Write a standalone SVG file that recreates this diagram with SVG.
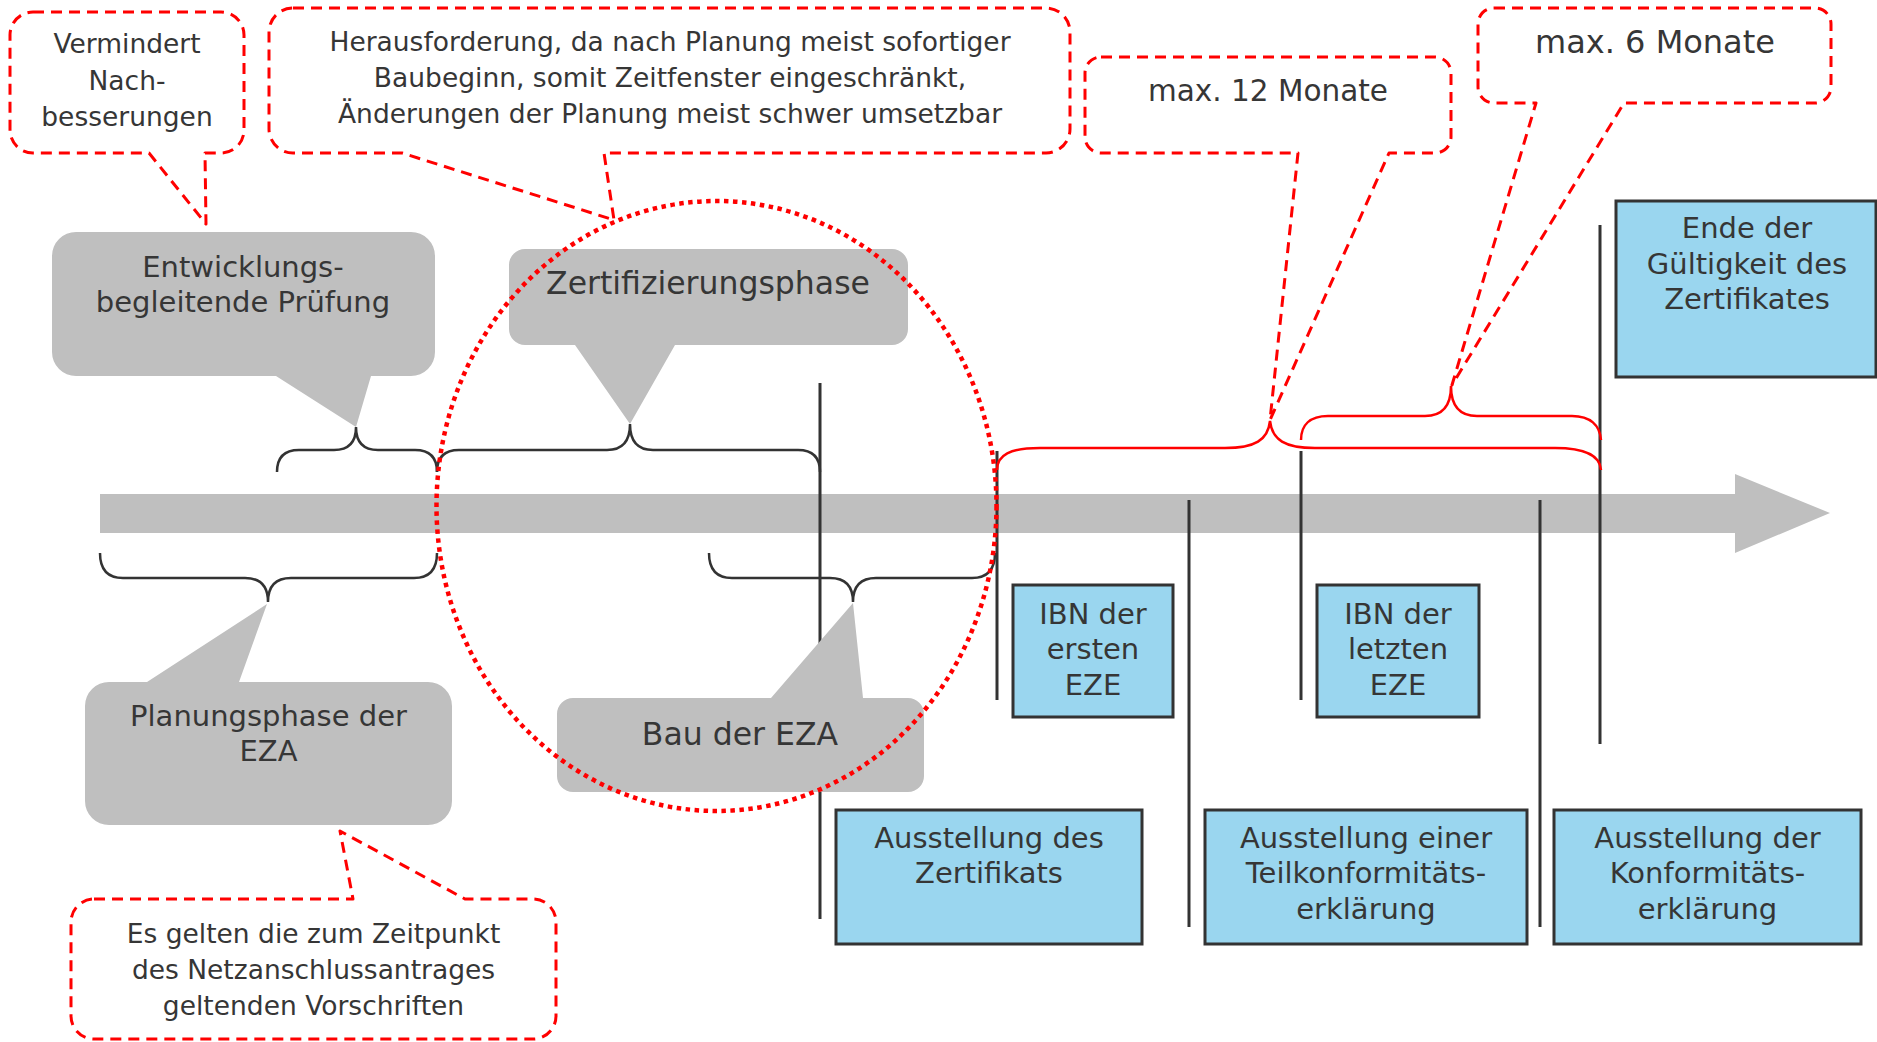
<svg xmlns="http://www.w3.org/2000/svg" width="1877" height="1042" viewBox="0 0 1877 1042">
<style>
text{font-family:"DejaVu Sans","Verdana",sans-serif;fill:#363636;text-anchor:middle}
.note{fill:#fff;stroke:#f00;stroke-width:3;stroke-dasharray:11 7;stroke-linejoin:round}
.bubble{fill:#bfbfbf;stroke:none}
.blue{fill:#9ad6ef;stroke:#333;stroke-width:3}
.vline{stroke:#333;stroke-width:3;fill:none}
.brace{fill:none;stroke:#333;stroke-width:2.5}
.rbrace{fill:none;stroke:#f00;stroke-width:2.5}
.t26{font-size:26.5px}
.t29{font-size:29px}
.t31{font-size:31.5px}
</style>
<rect width="1877" height="1042" fill="#fff"/>
<g id="timeline"><polygon points="100,494 1735,494 1735,474 1830,513 1735,553 1735,533 100,533" fill="#bfbfbf"/></g>
<g id="connectors">
<line class="vline" x1="820" y1="383" x2="820" y2="919"/>
<line class="vline" x1="997" y1="451" x2="997" y2="700"/>
<line class="vline" x1="1189" y1="500" x2="1189" y2="927"/>
<line class="vline" x1="1301" y1="451" x2="1301" y2="700"/>
<line class="vline" x1="1540" y1="500" x2="1540" y2="927"/>
<line class="vline" x1="1600" y1="225" x2="1600" y2="744"/>
<path class="brace" d="M 277,472 Q 277,450 299,450 H 334 Q 356,450 356,427 Q 356,450 378,450 H 415 Q 437,450 437,472"/>
<path class="brace" d="M 437,472 Q 437,450 459,450 H 607 Q 630,450 630,424 Q 630,450 653,450 H 798 Q 820,450 820,472"/>
<path class="brace" d="M 100,553 Q 100,578 123,578 H 245 Q 268,578 268,602 Q 268,578 291,578 H 414 Q 437,578 437,553"/>
<path class="brace" d="M 709,553 Q 709,578 732,578 H 830 Q 853,578 853,602 Q 853,578 876,578 H 972 Q 995,578 995,553"/>
<path class="rbrace" d="M 997,470 C 997,455 1010,448 1040,448 H 1225 C 1255,448 1268,440 1270,421 C 1272,440 1285,448 1315,448 H 1555 C 1585,448 1600,455 1601,470"/>
<path class="rbrace" d="M 1301,440 C 1301,425 1310,416 1328,416 H 1425 C 1443,416 1451,405 1451,386 C 1451,405 1459,416 1477,416 H 1572 C 1590,416 1600,425 1601,440"/>
</g>
<g id="note-vermindert">
<path class="note" d="M 33,12 H 221 A 23 23 0 0 1 244 35 V 130 A 23 23 0 0 1 221 153 H 205 L 206 224 L 149 153 H 33 A 23 23 0 0 1 10 130 V 35 A 23 23 0 0 1 33 12 Z"/>
<text class="t26" x="127" y="53">Vermindert</text>
<text class="t26" x="127" y="90">Nach-</text>
<text class="t26" x="127" y="126">besserungen</text>
</g>
<g id="note-herausforderung">
<path class="note" d="M 293,8 H 1046 A 24 24 0 0 1 1070 32 V 129 A 24 24 0 0 1 1046 153 H 604 L 614 220 L 402 153 H 293 A 24 24 0 0 1 269 129 V 32 A 24 24 0 0 1 293 8 Z"/>
<text class="t26" x="670" y="51">Herausforderung, da nach Planung meist sofortiger</text>
<text class="t26" x="670" y="87">Baubeginn, somit Zeitfenster eingeschränkt,</text>
<text class="t26" x="670" y="123">Änderungen der Planung meist schwer umsetzbar</text>
</g>
<g id="note-12">
<path class="note" d="M 1101,57 H 1435 A 16 16 0 0 1 1451 73 V 137 A 16 16 0 0 1 1435 153 H 1389 L 1270 420 L 1298 153 H 1101 A 16 16 0 0 1 1085 137 V 73 A 16 16 0 0 1 1101 57 Z"/>
<text x="1268" y="101" style="font-size:29.5px">max. 12 Monate</text>
</g>
<g id="note-6">
<path class="note" d="M 1494,8 H 1815 A 16 16 0 0 1 1831 24 V 87 A 16 16 0 0 1 1815 103 H 1624 L 1452 385 L 1536 103 H 1494 A 16 16 0 0 1 1478 87 V 24 A 16 16 0 0 1 1494 8 Z"/>
<text x="1655" y="53" style="font-size:32px">max. 6 Monate</text>
</g>
<g id="note-es-gelten">
<path class="note" d="M 94,899 H 353 L 340 831 L 465 899 H 533 A 23 23 0 0 1 556 922 V 1016 A 23 23 0 0 1 533 1039 H 94 A 23 23 0 0 1 71 1016 V 922 A 23 23 0 0 1 94 899 Z"/>
<text class="t26" x="313.5" y="943">Es gelten die zum Zeitpunkt</text>
<text class="t26" x="313.5" y="979">des Netzanschlussantrages</text>
<text class="t26" x="313.5" y="1015">geltenden Vorschriften</text>
</g>
<g id="bubble-entwicklung">
<path class="bubble" d="M 76,232 H 411 A 24 24 0 0 1 435 256 V 352 A 24 24 0 0 1 411 376 H 371 L 356 427 L 276 376 H 76 A 24 24 0 0 1 52 352 V 256 A 24 24 0 0 1 76 232 Z"/>
<text class="t29" x="243" y="277">Entwicklungs-</text>
<text class="t29" x="243" y="312">begleitende Prüfung</text>
</g>
<g id="bubble-zertifizierung">
<path class="bubble" d="M 525,249 H 892 A 16 16 0 0 1 908 265 V 329 A 16 16 0 0 1 892 345 H 675 L 630 424 L 575 345 H 525 A 16 16 0 0 1 509 329 V 265 A 16 16 0 0 1 525 249 Z"/>
<text class="t31" x="708" y="294">Zertifizierungsphase</text>
</g>
<g id="bubble-planung">
<path class="bubble" d="M 109,682 H 147 L 267 604 L 239 682 H 428 A 24 24 0 0 1 452 706 V 801 A 24 24 0 0 1 428 825 H 109 A 24 24 0 0 1 85 801 V 706 A 24 24 0 0 1 109 682 Z"/>
<text class="t29" x="268.5" y="726">Planungsphase der</text>
<text class="t29" x="268.5" y="761">EZA</text>
</g>
<g id="bubble-bau">
<path class="bubble" d="M 573,698 H 771 L 853 603 L 863 698 H 908 A 16 16 0 0 1 924 714 V 776 A 16 16 0 0 1 908 792 H 573 A 16 16 0 0 1 557 776 V 714 A 16 16 0 0 1 573 698 Z"/>
<text class="t31" x="740" y="745">Bau der EZA</text>
</g>
<g id="box-ibn-erste">
<rect class="blue" x="1013" y="585" width="160" height="132"/>
<text class="t29" x="1093" y="624">IBN der</text>
<text class="t29" x="1093" y="659">ersten</text>
<text class="t29" x="1093" y="695">EZE</text>
</g>
<g id="box-ibn-letzte">
<rect class="blue" x="1317" y="585" width="162" height="132"/>
<text class="t29" x="1398" y="624">IBN der</text>
<text class="t29" x="1398" y="659">letzten</text>
<text class="t29" x="1398" y="695">EZE</text>
</g>
<g id="box-zertifikat">
<rect class="blue" x="836" y="810" width="306" height="134"/>
<text class="t29" x="989" y="848">Ausstellung des</text>
<text class="t29" x="989" y="883">Zertifikats</text>
</g>
<g id="box-teilkonformitaet">
<rect class="blue" x="1205" y="810" width="322" height="134"/>
<text class="t29" x="1366" y="848">Ausstellung einer</text>
<text class="t29" x="1366" y="883">Teilkonformitäts-</text>
<text class="t29" x="1366" y="919">erklärung</text>
</g>
<g id="box-konformitaet">
<rect class="blue" x="1554" y="810" width="307" height="134"/>
<text class="t29" x="1707.5" y="848">Ausstellung der</text>
<text class="t29" x="1707.5" y="883">Konformitäts-</text>
<text class="t29" x="1707.5" y="919">erklärung</text>
</g>
<g id="box-ende">
<rect class="blue" x="1616" y="201" width="260" height="176"/>
<text class="t29" x="1747" y="238">Ende der</text>
<text class="t29" x="1747" y="274">Gültigkeit des</text>
<text class="t29" x="1747" y="309">Zertifikates</text>
</g>
<g id="focus-ellipse">
<ellipse cx="716.5" cy="506" rx="280" ry="305" fill="none" stroke="#f00" stroke-width="4.5" stroke-dasharray="4.5 4.5"/>
</g>
</svg>
